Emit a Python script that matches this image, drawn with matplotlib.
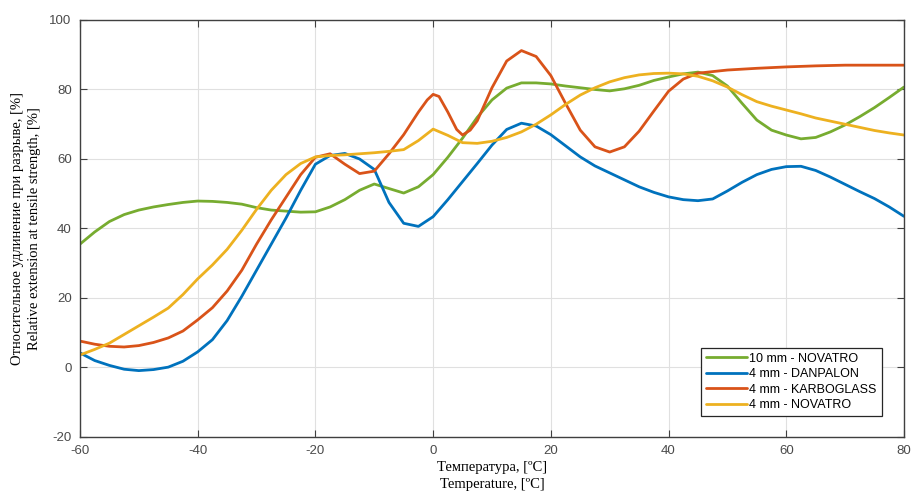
import matplotlib.pyplot as plt
import numpy as np

plt.rcParams['axes.unicode_minus'] = False

# Readings taken off the curves (temperature in deg C, extension in %)
t_green = [-60, -57.5, -55, -52.5, -50, -47.5, -45, -42.5, -40, -37.5, -35, -32.5, -30, -27.5,
           -25, -22.5, -20, -17.5, -15, -12.5, -10, -7.5, -5, -2.5, 0, 2.5, 5, 7.5, 10, 12.5,
           15, 17.5, 20, 22.5, 25, 27.5, 30, 32.5, 35, 37.5, 40, 42.5, 45, 47.5, 50, 52.5,
           55, 57.5, 60, 62.5, 65, 67.5, 70, 72.5, 75, 77.5, 80]
v_green = [35.5, 39, 42, 44, 45.3, 46.2, 46.9, 47.5, 47.9, 47.8, 47.5, 47, 46, 45.3,
           45, 44.7, 44.8, 46.2, 48.3, 51, 52.8, 51.5, 50.2, 52, 55.5, 60.5, 66, 72, 77, 80.4,
           81.9, 81.9, 81.6, 81, 80.5, 80, 79.6, 80.2, 81.2, 82.6, 83.6, 84.5, 85, 84, 81, 76,
           71.2, 68.3, 66.9, 65.8, 66.2, 67.8, 69.8, 72.2, 74.8, 77.7, 80.7]

t_blue = [-60, -57.5, -55, -52.5, -50, -47.5, -45, -42.5, -40, -37.5, -35, -32.5, -30, -27.5,
          -25, -22.5, -20, -17.5, -15, -12.5, -10, -7.5, -5, -2.5, 0, 2.5, 5, 7.5, 10, 12.5,
          15, 17.5, 20, 22.5, 25, 27.5, 30, 32.5, 35, 37.5, 40, 42.5, 45, 47.5, 50, 52.5,
          55, 57.5, 60, 62.5, 65, 67.5, 70, 72.5, 75, 77.5, 80]
v_blue = [4.2, 2, 0.6, -0.5, -0.9, -0.6, 0.1, 1.8, 4.5, 8, 13.5, 20.5, 28, 35.5,
          43, 51, 58.5, 61, 61.6, 60, 57, 47.5, 41.5, 40.6, 43.4, 48.3, 53.5, 58.7, 64, 68.5,
          70.3, 69.5, 67, 63.8, 60.6, 58, 56, 54, 52, 50.4, 49.1, 48.3, 48, 48.5, 50.8, 53.3,
          55.5, 57, 57.8, 57.9, 56.7, 54.8, 52.7, 50.6, 48.6, 46.2, 43.5]

t_red = [-60, -57.5, -55, -52.5, -50, -47.5, -45, -42.5, -40, -37.5, -35, -32.5, -30, -27.5,
         -25, -22.5, -20, -17.5, -15, -12.5, -10, -7.5, -5, -2.5, -1, 0, 1, 2.5, 4, 5, 6.3, 7.5,
         10, 12.5, 15, 17.5, 20, 22.5, 25, 27.5, 30, 32.5, 35, 37.5, 40, 42.5, 45, 50, 55, 60,
         65, 70, 75, 80]
v_red = [7.6, 6.7, 6.1, 5.9, 6.3, 7.2, 8.5, 10.5, 13.7, 17.2, 22, 28, 35.5, 42.5,
         49, 55.5, 60.5, 61.5, 58.5, 55.8, 56.5, 61.5, 67, 73.5, 77, 78.6, 78, 73.5, 68.5, 66.9, 68.3, 71,
         80.5, 88.2, 91.2, 89.5, 84, 76, 68.3, 63.5, 62, 63.5, 68, 73.8, 79.5, 83, 84.7, 85.6, 86.1, 86.5,
         86.8, 87, 87, 87]

t_yellow = [-60, -57.5, -55, -52.5, -50, -47.5, -45, -42.5, -40, -37.5, -35, -32.5, -30, -27.5,
            -25, -22.5, -20, -17.5, -15, -12.5, -10, -7.5, -5, -2.5, 0, 2.5, 5, 7.5, 10, 12.5,
            15, 17.5, 20, 22.5, 25, 27.5, 30, 32.5, 35, 37.5, 40, 42.5, 45, 47.5, 50, 52.5,
            55, 57.5, 60, 62.5, 65, 67.5, 70, 72.5, 75, 77.5, 80]
v_yellow = [3.6, 5.2, 7, 9.5, 12, 14.5, 17.1, 21, 25.5, 29.5, 34, 39.5, 45.5, 51,
            55.5, 58.7, 60.6, 61, 61.2, 61.5, 61.8, 62.2, 62.7, 65.3, 68.6, 66.8, 64.7, 64.5, 65.1, 66.2,
            67.8, 70, 72.7, 75.7, 78.4, 80.5, 82.2, 83.4, 84.2, 84.6, 84.7, 84.5, 83.8, 82.5, 80.7, 78.5,
            76.5, 75.2, 74.1, 73, 71.8, 70.9, 70, 69.1, 68.2, 67.5, 66.9]

labels = ['10 mm - NOVATRO', '4 mm - DANPALON', '4 mm - KARBOGLASS', '4 mm - NOVATRO']
colors = ['#77AC30', '#0072BD', '#D95319', '#EDB120']

fig = plt.figure(figsize=(9.12, 4.95), dpi=100)
ax = fig.add_axes([0.0877, 0.1172, 0.9035, 0.8424])

series = [(t_green, v_green), (t_blue, v_blue), (t_red, v_red), (t_yellow, v_yellow)]
for (t, v), lab, col in zip(series, labels, colors):
    ax.plot(t, v, color=col, lw=2.0, label=lab, solid_joinstyle='round', solid_capstyle='round')

ax.set_xlim(-60, 80)
ax.set_ylim(-20, 100)
ax.set_xticks(np.arange(-60, 81, 20))
ax.set_yticks(np.arange(-20, 101, 20))
ax.grid(True, color='#e0e0e0', lw=0.8)
ax.set_axisbelow(True)

ax.tick_params(direction='in', length=5, top=True, right=True, labelsize=9.5,
               labelcolor='#4a4a4a', color='#404040', pad=6)
for lbl in ax.get_xticklabels() + ax.get_yticklabels():
    lbl.set_family('Liberation Sans')
for s in ax.spines.values():
    s.set_color('#404040')
    s.set_linewidth(1.0)

ax.set_xlabel('Температура, [ºC]\nTemperature, [ºC]', family='Liberation Serif',
              fontsize=10.5, linespacing=1.4, labelpad=3)
ax.set_ylabel('Относительное удлинение при разрыве, [%]\nRelative extension at tensile strength, [%]',
              family='Liberation Serif', fontsize=10.5, linespacing=1.45, labelpad=6)

leg = ax.legend(loc='lower right', bbox_to_anchor=(0.973, 0.050), borderaxespad=0,
                fancybox=False, edgecolor='#262626', framealpha=1, handlelength=3.3,
                handletextpad=0.15, borderpad=0.4, labelspacing=0.28,
                prop={'family': 'Liberation Sans', 'size': 9})
leg.get_frame().set_linewidth(0.9)

fig.savefig('out.png', dpi=100)
